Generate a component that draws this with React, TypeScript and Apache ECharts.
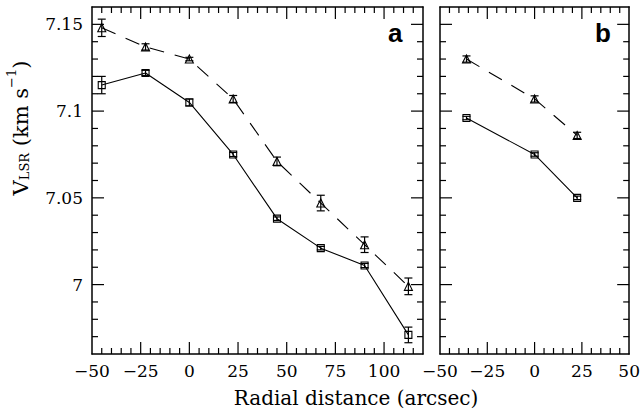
import React, { useEffect, useRef } from "react";
import * as echarts from "echarts";

// Panel a
const xA = [-45, -22.5, 0, 22.5, 45, 67.5, 90, 112.5];
const triA = [7.148, 7.137, 7.13, 7.107, 7.071, 7.047, 7.023, 6.999];
const triAErr = [0.005, 0.0018, 0.001, 0.002, 0.0025, 0.0045, 0.0045, 0.0048];
const sqA = [7.115, 7.122, 7.105, 7.075, 7.038, 7.021, 7.011, 6.971];
const sqAErr = [0.005, 0.0015, 0.002, 0.0012, 0.001, 0.001, 0.0012, 0.0045];

// Panel b
const xB = [-36, 0, 22.5];
const triB = [7.13, 7.107, 7.086];
const triBErr = [0.0018, 0.0018, 0.0018];
const sqB = [7.096, 7.075, 7.05];
const sqBErr = [0.001, 0.001, 0.001];

// Axes
const yMajor = [7, 7.05, 7.1, 7.15];
const yMin = 6.96;
const yMax = 7.16;
const yMinorStep = 0.01;
const xMajorA = [-50, -25, 0, 25, 50, 75, 100];
const xRangeA = [-50, 120];
const xMajorB = [-50, -25, 0, 25, 50];
const xRangeB = [-50, 50];
const xMinorStep = 5;

const SERIF = "'DejaVu Serif', 'Liberation Serif', serif";

function steps(a: number, b: number, s: number): number[] {
  const out: number[] = [];
  const n = Math.round((b - a) / s);
  for (let i = 0; i <= n; i++) out.push(Math.round((a + i * s) * 1000) / 1000);
  return out;
}

export default function App() {
  const ref = useRef<HTMLDivElement>(null);
  useEffect(() => {
    if (!ref.current) return;
    const chart = echarts.init(ref.current, null, { renderer: "svg" });

    const gridDefs = [
      { left: 92, right: 220, top: 7, bottom: 57 },
      { left: 440, right: 11, top: 7, bottom: 57 },
    ];
    const frame = { show: true, onZero: false, lineStyle: { color: "#000", width: 1.5 } };
    const noLabel = { show: false };
    const panels = [
      { major: xMajorA, range: xRangeA, labelsY: true },
      { major: xMajorB, range: xRangeB, labelsY: false },
    ];

    const xAxes: any[] = [];
    const yAxes: any[] = [];
    // per grid: x axes [bottom, top], y axes [left, right]
    panels.forEach((p, gi) => {
      (["bottom", "top"] as const).forEach((pos) => {
        xAxes.push({
          type: "value",
          gridIndex: gi,
          position: pos,
          min: p.range[0],
          max: p.range[1],
          axisLine: frame,
          splitLine: { show: false },
          axisTick: { show: false },
          axisLabel:
            pos === "bottom"
              ? {
                  show: true,
                  customValues: p.major,
                  formatter: (v: number) => String(v).replace("-", "\u2212"),
                  color: "#000",
                  fontFamily: SERIF,
                  fontSize: 17,
                  margin: 8,
                }
              : noLabel,
        });
      });
      (["left", "right"] as const).forEach((pos) => {
        yAxes.push({
          type: "value",
          gridIndex: gi,
          position: pos,
          min: yMin,
          max: yMax,
          axisLine: frame,
          splitLine: { show: false },
          axisTick: { show: false },
          axisLabel:
            pos === "left" && p.labelsY
              ? {
                  show: true,
                  customValues: yMajor,
                  formatter: (v: number) => String(Math.round(v * 100) / 100),
                  color: "#000",
                  fontFamily: SERIF,
                  fontSize: 17,
                  margin: 9,
                }
              : noLabel,
        });
      });
    });

    const st = { stroke: "#000", lineWidth: 1.2 };

    const errSeries = (xs: number[], ys: number[], es: number[], xi: number, yi: number) => ({
      type: "custom",
      xAxisIndex: xi,
      yAxisIndex: yi,
      data: xs.map((x, i) => [x, ys[i], es[i]]),
      renderItem: (params: any, api: any) => {
        const x = api.value(0);
        const y = api.value(1);
        const e = api.value(2);
        const top = api.coord([x, y + e]);
        const bot = api.coord([x, y - e]);
        const w = 4;
        return {
          type: "group",
          children: [
            { type: "line", shape: { x1: top[0], y1: top[1], x2: bot[0], y2: bot[1] }, style: st },
            { type: "line", shape: { x1: top[0] - w, y1: top[1], x2: top[0] + w, y2: top[1] }, style: st },
            { type: "line", shape: { x1: bot[0] - w, y1: bot[1], x2: bot[0] + w, y2: bot[1] }, style: st },
          ],
        };
      },
      z: 3,
    });

    const lineSeries = (xs: number[], ys: number[], xi: number, yi: number, dashed: boolean) => ({
      type: "line",
      xAxisIndex: xi,
      yAxisIndex: yi,
      data: xs.map((x, i) => [x, ys[i]]),
      symbol: dashed ? "triangle" : "rect",
      symbolSize: dashed ? 8 : 7,
      showSymbol: true,
      itemStyle: { color: "none", borderColor: "#000", borderWidth: 1.1 },
      lineStyle: { color: "#000", width: 1.1, type: dashed ? [15, 11] : "solid" },
      z: 2,
    });

    const series = [
      lineSeries(xA, triA, 0, 0, true),
      lineSeries(xA, sqA, 0, 0, false),
      errSeries(xA, triA, triAErr, 0, 0),
      errSeries(xA, sqA, sqAErr, 0, 0),
      lineSeries(xB, triB, 2, 2, true),
      lineSeries(xB, sqB, 2, 2, false),
      errSeries(xB, triB, triBErr, 2, 2),
      errSeries(xB, sqB, sqBErr, 2, 2),
    ];

    const texts: any[] = [
      {
        type: "text",
        left: 388,
        top: 20,
        style: { text: "a", font: "bold 26px 'Liberation Sans', Arial, sans-serif", fill: "#000" },
      },
      {
        type: "text",
        left: 595,
        top: 20,
        style: { text: "b", font: "bold 26px 'Liberation Sans', Arial, sans-serif", fill: "#000" },
      },
      {
        type: "text",
        x: 18,
        y: 128,
        rotation: Math.PI / 2,
        style: {
          text: "{v|V}{sub|LSR}{v| (km s}{sup|\u22121}{v|)}",
          align: "center",
          verticalAlign: "middle",
          rich: {
            v: { fontFamily: SERIF, fontSize: 21, lineHeight: 26, verticalAlign: "bottom", fill: "#000" },
            sub: { fontFamily: SERIF, fontSize: 13, lineHeight: 12, verticalAlign: "bottom", fill: "#000" },
            sup: { fontFamily: SERIF, fontSize: 13, lineHeight: 12, verticalAlign: "top", fill: "#000" },
          },
        },
      },
      {
        type: "text",
        x: 356,
        y: 398,
        style: {
          text: "Radial distance (arcsec)",
          fontFamily: SERIF,
          fontSize: 20,
          fill: "#000",
          align: "center",
          verticalAlign: "middle",
        },
      },
    ];

    chart.setOption({
      animation: false,
      backgroundColor: "#fff",
      grid: gridDefs,
      xAxis: xAxes,
      yAxis: yAxes,
      series,
      graphic: texts,
    });

    // Inward tick marks on all four sides, positioned through the axes' own scales
    const tickStyle = { stroke: "#000", lineWidth: 1.2 };
    const ticks: any[] = [];
    const isIn = (list: number[], v: number) => list.some((m) => Math.abs(m - v) < 1e-6);
    panels.forEach((p, gi) => {
      const finder = { xAxisIndex: gi * 2, yAxisIndex: gi * 2 };
      const xMinor = steps(p.range[0], p.range[1], xMinorStep);
      xMinor.forEach((v) => {
        if (v <= p.range[0] || v >= p.range[1]) return;
        const len = v % 25 === 0 ? 12 : 6;
        const b = chart.convertToPixel(finder, [v, yMin]) as number[];
        const t = chart.convertToPixel(finder, [v, yMax]) as number[];
        ticks.push({ type: "line", z: 50, shape: { x1: b[0], y1: b[1], x2: b[0], y2: b[1] - len }, style: tickStyle });
        ticks.push({ type: "line", z: 50, shape: { x1: t[0], y1: t[1], x2: t[0], y2: t[1] + len }, style: tickStyle });
      });
      const yMinor = steps(yMin, yMax, yMinorStep);
      yMinor.forEach((v) => {
        if (v <= yMin || v >= yMax) return;
        const len = isIn(yMajor, v) ? 12 : 6;
        const l = chart.convertToPixel(finder, [p.range[0], v]) as number[];
        const r = chart.convertToPixel(finder, [p.range[1], v]) as number[];
        ticks.push({ type: "line", z: 50, shape: { x1: l[0], y1: l[1], x2: l[0] + len, y2: l[1] }, style: tickStyle });
        ticks.push({ type: "line", z: 50, shape: { x1: r[0], y1: r[1], x2: r[0] - len, y2: r[1] }, style: tickStyle });
      });
    });
    chart.setOption({ graphic: [...texts, ...ticks] });

    return () => chart.dispose();
  }, []);
  return <div ref={ref} style={{ width: 643, height: 411, position: "absolute", left: 0, top: 0 }} />;
}
